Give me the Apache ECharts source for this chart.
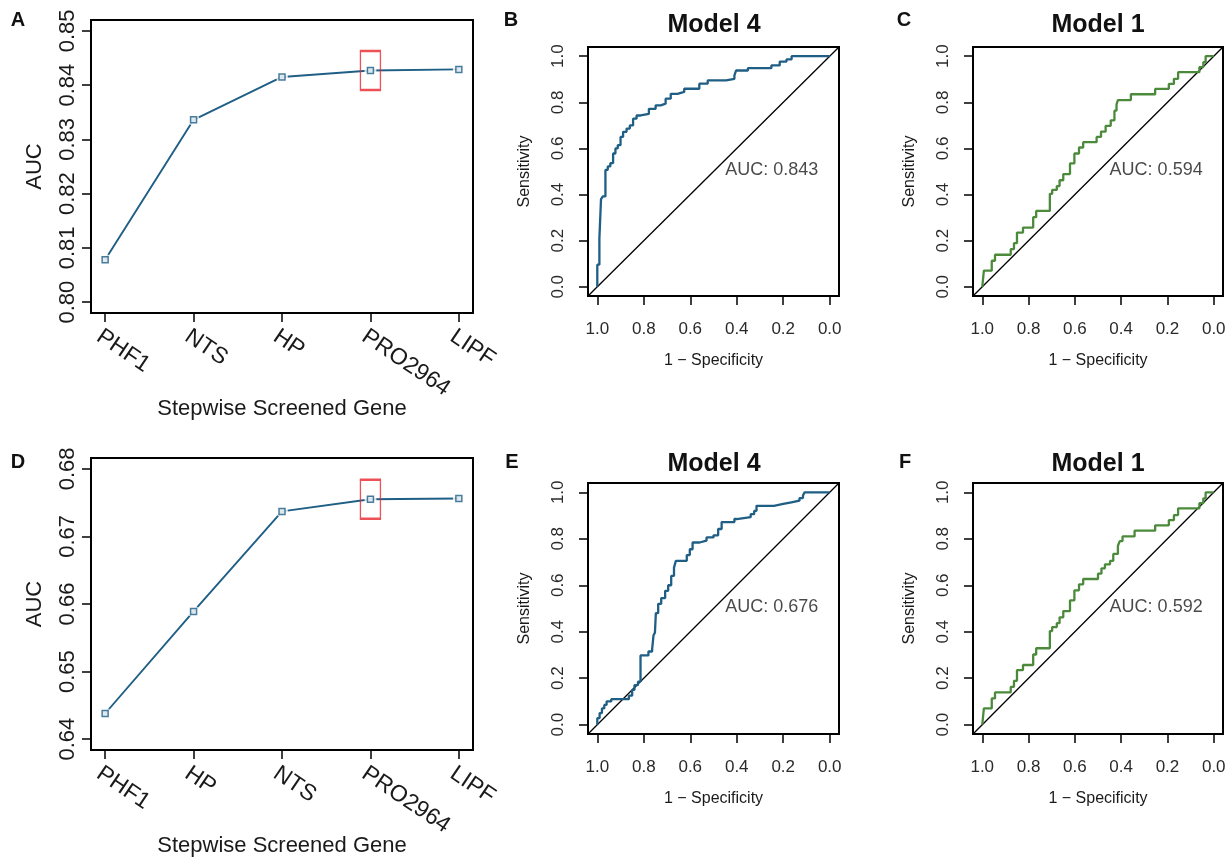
<!DOCTYPE html>
<html>
<head>
<meta charset="utf-8">
<script src="https://cdn.jsdelivr.net/npm/echarts@6/dist/echarts.min.js"></script>
<style>
  html, body { margin: 0; padding: 0; background: #ffffff; }
  #chart { width: 1230px; height: 863px; }
</style>
</head>
<body>
<div id="chart"></div>
<script>
// ---- Stepwise gene screening (panels A and D) ----
const genesTop = ['PHF1', 'NTS', 'HP', 'PRO2964', 'LIPF'];
const aucTop = [0.8078, 0.8336, 0.8415, 0.8427, 0.8429];
const aucTicksTop = [0.80, 0.81, 0.82, 0.83, 0.84, 0.85];

const genesBottom = ['PHF1', 'HP', 'NTS', 'PRO2964', 'LIPF'];
const aucBottom = [0.6438, 0.6589, 0.6737, 0.6755, 0.6756];
const aucTicksBottom = [0.64, 0.65, 0.66, 0.67, 0.68];

const highlightGene = 'PRO2964';

// ---- ROC curves: (specificity, sensitivity) step points ----
const rocTicks = [0, 0.2, 0.4, 0.6, 0.8, 1.0];

const specB = [1, 0.991, 0.984, 0.976, 0.965, 0.955, 0.944, 0.932, 0.922, 0.912, 0.9, 0.889, 0.874, 0.86, 0.846, 0.831, 0.814, 0.778, 0.749, 0.727, 0.706, 0.684, 0.655, 0.626, 0.561, 0.525, 0.446, 0.41, 0.403, 0.352, 0.251, 0.215, 0.186, 0.164, 0];
const sensB = [0, 0.096, 0.21, 0.38, 0.392, 0.507, 0.522, 0.536, 0.578, 0.6, 0.614, 0.65, 0.672, 0.686, 0.7, 0.729, 0.743, 0.75, 0.772, 0.787, 0.794, 0.816, 0.837, 0.845, 0.859, 0.881, 0.895, 0.902, 0.917, 0.938, 0.948, 0.96, 0.977, 0.986, 1];

const specC = [1, 0.993, 0.959, 0.945, 0.877, 0.863, 0.85, 0.824, 0.78, 0.767, 0.708, 0.698, 0.678, 0.666, 0.65, 0.621, 0.602, 0.582, 0.564, 0.506, 0.487, 0.467, 0.445, 0.429, 0.42, 0.414, 0.358, 0.253, 0.194, 0.172, 0.154, 0.062, 0.045, 0.035, 0];
const sensC = [0, 0, 0.07, 0.113, 0.139, 0.163, 0.189, 0.235, 0.257, 0.302, 0.329, 0.403, 0.42, 0.437, 0.462, 0.489, 0.535, 0.578, 0.604, 0.627, 0.65, 0.673, 0.698, 0.722, 0.764, 0.79, 0.81, 0.835, 0.858, 0.88, 0.902, 0.931, 0.953, 0.974, 1];

const specE = [1, 0.99, 0.98, 0.97, 0.96, 0.94, 0.864, 0.85, 0.84, 0.825, 0.814, 0.78, 0.764, 0.758, 0.752, 0.748, 0.738, 0.725, 0.708, 0.695, 0.682, 0.67, 0.662, 0.615, 0.602, 0.59, 0.56, 0.53, 0.5, 0.48, 0.465, 0.41, 0.4, 0.34, 0.325, 0.315, 0.24, 0.2, 0.165, 0.13, 0.115, 0.108, 0];
const sensE = [0, 0.028, 0.05, 0.07, 0.085, 0.1, 0.11, 0.125, 0.15, 0.17, 0.185, 0.298, 0.315, 0.325, 0.385, 0.396, 0.48, 0.52, 0.545, 0.576, 0.6, 0.64, 0.676, 0.705, 0.73, 0.755, 0.784, 0.792, 0.806, 0.815, 0.842, 0.872, 0.885, 0.893, 0.906, 0.92, 0.942, 0.95, 0.957, 0.964, 0.975, 0.986, 1];

const specF = [1, 0.993, 0.959, 0.945, 0.877, 0.863, 0.85, 0.824, 0.78, 0.767, 0.708, 0.698, 0.678, 0.666, 0.65, 0.621, 0.602, 0.582, 0.564, 0.5, 0.485, 0.47, 0.448, 0.434, 0.414, 0.406, 0.394, 0.342, 0.253, 0.194, 0.172, 0.154, 0.062, 0.045, 0.035, 0];
const sensF = [0, 0, 0.07, 0.113, 0.139, 0.163, 0.189, 0.235, 0.257, 0.302, 0.329, 0.403, 0.42, 0.437, 0.462, 0.489, 0.535, 0.578, 0.604, 0.627, 0.65, 0.673, 0.69, 0.705, 0.735, 0.77, 0.79, 0.81, 0.835, 0.858, 0.88, 0.902, 0.931, 0.953, 0.974, 1];

const aucB = 0.843, aucC = 0.594, aucE = 0.676, aucF = 0.592;

// ---- styling ----
const FONT = "'Liberation Sans', Arial, Helvetica, sans-serif";
const TXT = '#1a1a1a';
const BLUE = '#1f5e85';
const GREEN = '#4b8a3b';
const RED = '#e8262a';
const EXPAND = 0.04;   // plot range padding on each side

const grids = [
  { left: 91,  top: 20,  width: 382, height: 293 },  // A
  { left: 588, top: 47,  width: 251, height: 249 },  // B
  { left: 973, top: 47,  width: 250, height: 249 },  // C
  { left: 91,  top: 458, width: 382, height: 292 },  // D
  { left: 588, top: 483, width: 251, height: 251 },  // E
  { left: 973, top: 483, width: 250, height: 251 }   // F
].map(g => Object.assign({ show: true, borderColor: '#000', borderWidth: 2, backgroundColor: 'transparent', containLabel: false }, g));

const xAxes = [], yAxes = [], series = [];

const tickStyle = { show: true, length: 9, inside: false, lineStyle: { color: '#000', width: 1.5 } };
const hiddenLine = { show: false, onZero: false };

function padded(lo, hi) {
  const p = (hi - lo) * EXPAND;
  return [lo - p, hi + p];
}

function stepwisePanel(gi, genes, auc, ticks) {
  const pos = genes.map((g, i) => i + 1);
  const [xmin, xmax] = padded(1, genes.length);
  const [ymin, ymax] = padded(ticks[0], ticks[ticks.length - 1]);
  xAxes.push({
    gridIndex: gi, type: 'value', min: xmin, max: xmax,
    axisLine: hiddenLine, splitLine: { show: false },
    axisTick: Object.assign({ customValues: pos }, tickStyle),
    axisLabel: {
      customValues: pos, rotate: -34, margin: 12,
      align: 'left', verticalAlign: 'top',
      formatter: v => genes[Math.round(v) - 1],
      fontSize: 23, color: TXT, fontFamily: FONT
    },
    name: 'Stepwise Screened Gene', nameLocation: 'middle', nameGap: 85,
    nameMoveOverlap: false,
    nameTextStyle: { fontSize: 22, color: TXT, fontFamily: FONT }
  });
  yAxes.push({
    gridIndex: gi, type: 'value', min: ymin, max: ymax,
    axisLine: hiddenLine, splitLine: { show: false },
    axisTick: Object.assign({ customValues: ticks }, tickStyle),
    axisLabel: {
      customValues: ticks, rotate: 90, margin: 12,
      formatter: v => v.toFixed(2),
      fontSize: 22, color: TXT, fontFamily: FONT
    },
    name: 'AUC', nameLocation: 'middle', nameGap: 45,
    nameMoveOverlap: false,
    nameTextStyle: { fontSize: 22, color: TXT, fontFamily: FONT }
  });
  const pts = genes.map((g, i) => [pos[i], auc[i]]);
  series.push({
    type: 'line', xAxisIndex: gi, yAxisIndex: gi, data: pts,
    symbol: 'none', lineStyle: { color: BLUE, width: 1.9 }, z: 2, silent: true
  });
  // white halo opening the line around each point
  series.push({
    type: 'scatter', xAxisIndex: gi, yAxisIndex: gi, data: pts,
    symbol: 'circle', symbolSize: 12, itemStyle: { color: '#ffffff' }, z: 3, silent: true
  });
  series.push({
    type: 'scatter', xAxisIndex: gi, yAxisIndex: gi, data: pts,
    symbol: 'rect', symbolSize: 6,
    itemStyle: { color: '#dbe7ee', borderColor: BLUE, borderWidth: 1.5 }, z: 4, silent: true
  });
  const hi = genes.indexOf(highlightGene);
  series.push({
    type: 'scatter', xAxisIndex: gi, yAxisIndex: gi, data: [pts[hi]],
    symbol: 'rect', symbolSize: [20, 39],
    itemStyle: { color: 'rgba(0,0,0,0)', borderColor: RED, borderWidth: 1.8 }, z: 5, silent: true
  });
}

function rocPanel(gi, spec, sens, color, auc) {
  const [lo, hi] = padded(0, 1);
  xAxes.push({
    gridIndex: gi, type: 'value', min: lo, max: hi, inverse: true,
    axisLine: hiddenLine, splitLine: { show: false },
    axisTick: Object.assign({ customValues: rocTicks }, tickStyle),
    axisLabel: {
      customValues: rocTicks, margin: 25,
      formatter: v => v.toFixed(1),
      fontSize: 17, color: '#2a2a2a', fontFamily: FONT
    },
    name: '1 \u2212 Specificity', nameLocation: 'middle', nameGap: 57,
    nameMoveOverlap: false,
    nameTextStyle: { fontSize: 16, color: TXT, fontFamily: FONT }
  });
  yAxes.push({
    gridIndex: gi, type: 'value', min: lo, max: hi,
    axisLine: hiddenLine, splitLine: { show: false },
    axisTick: Object.assign({ customValues: rocTicks }, tickStyle),
    axisLabel: {
      customValues: rocTicks, rotate: 90, margin: 21,
      formatter: v => v.toFixed(1),
      fontSize: 17, color: '#2a2a2a', fontFamily: FONT
    },
    name: 'Sensitivity', nameLocation: 'middle', nameGap: 55,
    nameMoveOverlap: false,
    nameTextStyle: { fontSize: 16, color: TXT, fontFamily: FONT }
  });
  // chance diagonal across the whole plot region
  series.push({
    type: 'line', xAxisIndex: gi, yAxisIndex: gi, data: [[hi, lo], [lo, hi]],
    symbol: 'none', lineStyle: { color: '#000', width: 1.3 }, z: 2, silent: true
  });
  series.push({
    type: 'line', xAxisIndex: gi, yAxisIndex: gi, step: 'start',
    data: spec.map((s, i) => [s, sens[i]]),
    symbol: 'none', lineStyle: { color: color, width: 2.3 }, z: 3, silent: true
  });
  series.push({
    type: 'scatter', xAxisIndex: gi, yAxisIndex: gi, data: [[0.452, 0.506]],
    symbolSize: 1, itemStyle: { color: 'rgba(0,0,0,0)' }, z: 4, silent: true,
    label: {
      show: true, position: 'right', distance: 0,
      formatter: 'AUC: ' + auc.toFixed(3),
      fontSize: 18, color: TXT, fontFamily: FONT
    }
  });
}

stepwisePanel(0, genesTop, aucTop, aucTicksTop);
rocPanel(1, specB, sensB, BLUE, aucB);
rocPanel(2, specC, sensC, GREEN, aucC);
stepwisePanel(3, genesBottom, aucBottom, aucTicksBottom);
rocPanel(4, specE, sensE, BLUE, aucE);
rocPanel(5, specF, sensF, GREEN, aucF);

function headline(text, x, y, size) {
  return {
    text: text, left: x, top: y, textAlign: 'center', padding: 0,
    textStyle: { fontSize: size, fontWeight: 'bold', color: '#111', fontFamily: FONT }
  };
}

const titles = [
  headline('A', 18, 10, 20),
  headline('B', 511, 10, 20),
  headline('C', 904, 10, 20),
  headline('D', 18, 452, 20),
  headline('E', 512, 452, 20),
  headline('F', 905, 452, 20),
  headline('Model 4', 714, 13, 25),
  headline('Model 1', 1098, 13, 25),
  headline('Model 4', 714, 452, 25),
  headline('Model 1', 1098, 452, 25)
];

const chart = echarts.init(document.getElementById('chart'), null, { renderer: 'canvas' });
chart.setOption({
  backgroundColor: '#ffffff',
  animation: false,
  textStyle: { fontFamily: FONT },
  title: titles,
  grid: grids,
  xAxis: xAxes,
  yAxis: yAxes,
  series: series
});
</script>
</body>
</html>
